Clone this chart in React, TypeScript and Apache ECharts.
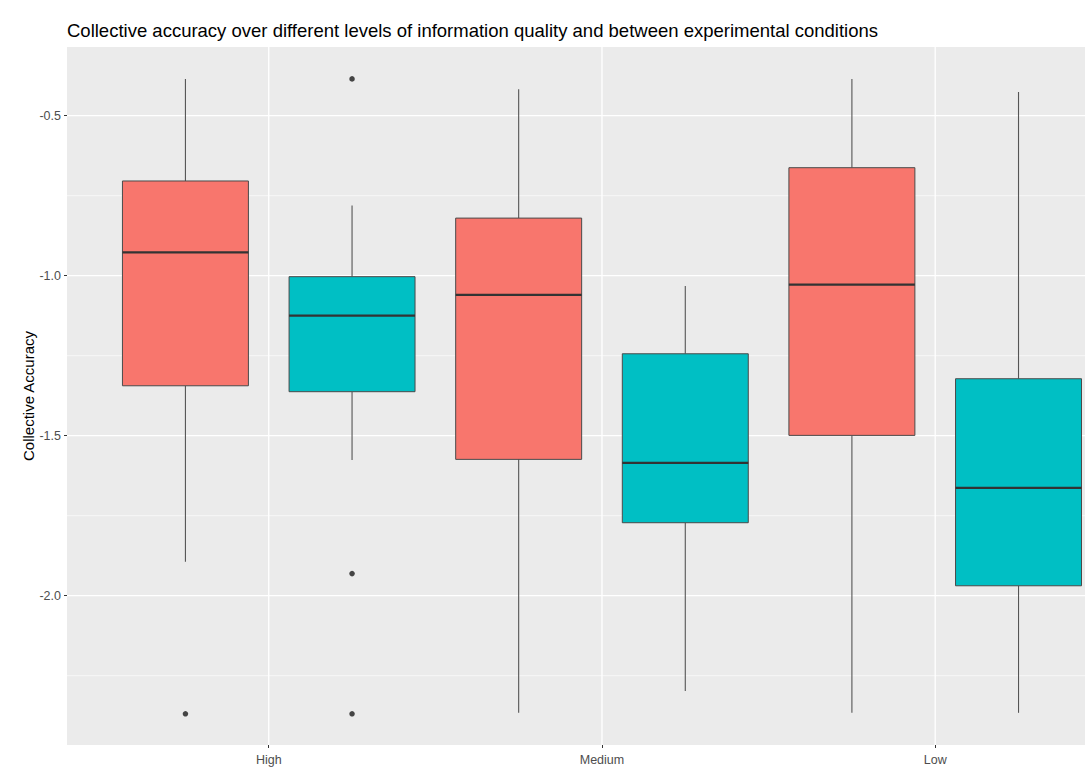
import React, { useEffect, useRef } from "react";
import * as echarts from "echarts";

// ---- data ----
const categories = ["High", "Medium", "Low"];
const conditions = ["Condition A", "Condition B"];
// [lowerWhisker, Q1, median, Q3, upperWhisker] per category
const boxesA = [
  [-1.894, -1.344, -0.927, -0.704, -0.385],
  [-2.366, -1.574, -1.06, -0.82, -0.417],
  [-2.366, -1.499, -1.028, -0.6625, -0.385],
];
const boxesB = [
  [-1.576, -1.3625, -1.125, -1.003, -0.781],
  [-2.298, -1.772, -1.585, -1.244, -1.032],
  [-2.366, -1.969, -1.663, -1.322, -0.426],
];
// [categoryIndex, value]
const outliersA = [[0, -2.369]];
const outliersB = [
  [0, -0.385],
  [0, -1.931],
  [0, -2.369],
];
const yTickValues = [-2.0, -1.5, -1.0, -0.5];
const yMinorValues = [-2.25, -1.75, -1.25, -0.75];
const xTickValues = [1, 2, 3];

const TITLE =
  "Collective accuracy over different levels of information quality and between experimental conditions";
const Y_NAME = "Collective Accuracy";

const COLORS = ["#F8766D", "#00BFC4"];
const DODGE = 0.25;
const BOX_W = 0.378;
const FONT = "Liberation Sans, Arial, sans-serif";

export default function App() {
  const ref = useRef<HTMLDivElement>(null);
  useEffect(() => {
    if (!ref.current) return;
    const chart = echarts.init(ref.current, null, { renderer: "svg" });

    const gridSeries = (values: number[], horizontal: boolean, width: number, name: string) => ({
      type: "custom",
      name,
      silent: true,
      z: 1,
      data: values.map((v) => [v]),
      renderItem: (params: any, api: any) => {
        const cs = params.coordSys;
        const v = api.value(0);
        if (horizontal) {
          const y = api.coord([1, v])[1];
          return {
            type: "line",
            shape: { x1: cs.x, y1: y, x2: cs.x + cs.width, y2: y },
            style: { stroke: "#FFFFFF", lineWidth: width },
          };
        }
        const x = api.coord([v, 0])[0];
        return {
          type: "line",
          shape: { x1: x, y1: cs.y, x2: x, y2: cs.y + cs.height },
          style: { stroke: "#FFFFFF", lineWidth: width },
        };
      },
    });

    const boxSeries = (boxes: number[][], offset: number, color: string, name: string) => ({
      type: "custom",
      name,
      z: 3,
      data: boxes.map((b, i) => [i + 1 + offset, ...b]),
      renderItem: (_params: any, api: any) => {
        const xc = api.value(0);
        const lo = api.coord([xc, api.value(1)]);
        const q1 = api.coord([xc, api.value(2)]);
        const med = api.coord([xc, api.value(3)]);
        const q3 = api.coord([xc, api.value(4)]);
        const hi = api.coord([xc, api.value(5)]);
        const w = api.size([BOX_W, 0])[0];
        const x = lo[0];
        return {
          type: "group",
          children: [
            {
              type: "line",
              shape: { x1: x, y1: hi[1], x2: x, y2: q3[1] },
              style: { stroke: "#555555", lineWidth: 1.1 },
            },
            {
              type: "line",
              shape: { x1: x, y1: q1[1], x2: x, y2: lo[1] },
              style: { stroke: "#555555", lineWidth: 1.1 },
            },
            {
              type: "rect",
              shape: { x: x - w / 2, y: q3[1], width: w, height: q1[1] - q3[1] },
              style: { fill: color, stroke: "#4a4a4a", lineWidth: 1 },
            },
            {
              type: "line",
              shape: { x1: x - w / 2, y1: med[1], x2: x + w / 2, y2: med[1] },
              style: { stroke: "#333333", lineWidth: 2.2 },
            },
          ],
        };
      },
    });

    const outlierSeries = (pts: number[][], offset: number, name: string) => ({
      type: "scatter",
      name,
      z: 4,
      symbol: "circle",
      symbolSize: 5.5,
      itemStyle: { color: "#1a1a1a" },
      data: pts.map((p) => [p[0] + 1 + offset, p[1]]),
    });

    chart.setOption({
      animation: false,
      backgroundColor: "#FFFFFF",
      textStyle: { fontFamily: FONT },
      title: {
        text: TITLE,
        left: 67,
        top: 21,
        padding: 0,
        textStyle: { fontFamily: FONT, fontSize: 18.5, fontWeight: "normal", color: "#000000" },
      },
      grid: {
        left: 67,
        right: 0,
        top: 47,
        bottom: 24,
        show: true,
        backgroundColor: "#EBEBEB",
        borderWidth: 0,
      },
      xAxis: {
        type: "value",
        min: 0.3946,
        max: 3.4495,
        axisLine: { show: false },
        splitLine: { show: false },
        axisTick: {
          show: true,
          customValues: xTickValues,
          length: 3,
          lineStyle: { color: "#333333", width: 1 },
        },
        axisLabel: {
          customValues: xTickValues,
          formatter: (v: number) => categories[Math.round(v) - 1] ?? "",
          color: "#4D4D4D",
          fontSize: 12.5,
          fontFamily: FONT,
          margin: 8,
        },
      },
      yAxis: {
        type: "value",
        min: -2.4666,
        max: -0.2853,
        name: Y_NAME,
        nameLocation: "middle",
        nameGap: 31,
        nameMoveOverlap: false,
        nameTextStyle: { color: "#000000", fontSize: 15, fontFamily: FONT },
        axisLine: { show: false },
        splitLine: { show: false },
        axisTick: {
          show: true,
          customValues: yTickValues,
          length: 3,
          lineStyle: { color: "#333333", width: 1 },
        },
        axisLabel: {
          customValues: yTickValues,
          formatter: (v: number) => v.toFixed(1),
          color: "#4D4D4D",
          fontSize: 12.5,
          fontFamily: FONT,
          margin: 6,
        },
      },
      series: [
        gridSeries(yMinorValues, true, 0.6, "minor-y"),
        gridSeries(yTickValues, true, 1.3, "major-y"),
        gridSeries(xTickValues, false, 1.3, "major-x"),
        boxSeries(boxesA, -DODGE, COLORS[0], conditions[0]),
        boxSeries(boxesB, DODGE, COLORS[1], conditions[1]),
        outlierSeries(outliersA, -DODGE, conditions[0] + " outliers"),
        outlierSeries(outliersB, DODGE, conditions[1] + " outliers"),
      ],
    });
    return () => chart.dispose();
  }, []);

  return (
    <div
      ref={ref}
      style={{ position: "absolute", left: 0, top: 0, width: 1085, height: 769 }}
    />
  );
}
